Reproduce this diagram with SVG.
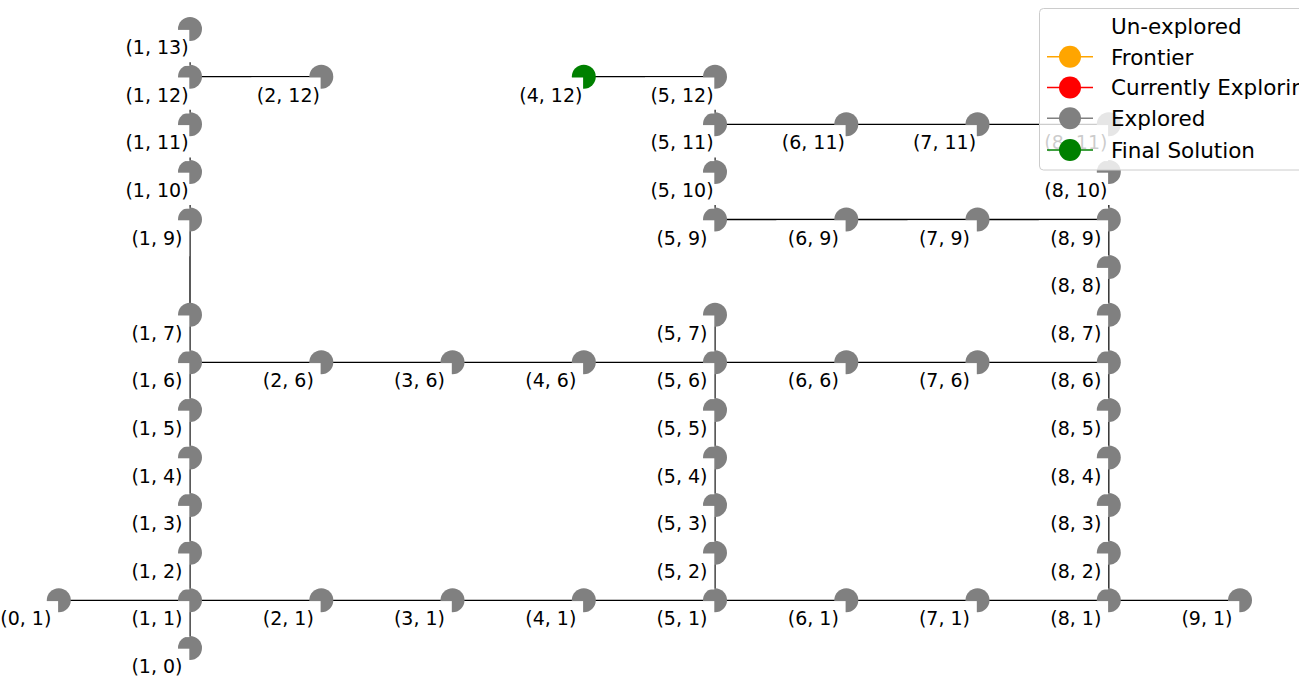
<svg xmlns="http://www.w3.org/2000/svg" width="1299" height="679" viewBox="0 0 1299 679">
<style>
.n circle{fill:#808080}
.n.g circle{fill:#008000}
.n rect{fill:#ffffff}
.n text{font-family:"DejaVu Sans",sans-serif;font-size:19px;fill:#000;text-anchor:middle}
#edges line{stroke:#000;stroke-width:1.3}
.lg text{font-family:"DejaVu Sans",sans-serif;font-size:21.5px;fill:#000}
.lg line{stroke-width:1.6}
</style>
<rect width="1299" height="679" fill="#ffffff"/>
<g id="edges">
<line x1="190" y1="76.7" x2="321.3" y2="76.7"/>
<line x1="583.8" y1="76.7" x2="715" y2="76.7"/>
<line x1="715" y1="124.3" x2="1108.8" y2="124.3"/>
<line x1="715" y1="219.5" x2="1108.8" y2="219.5"/>
<line x1="190" y1="362.3" x2="1108.8" y2="362.3"/>
<line x1="58.8" y1="600.3" x2="1240" y2="600.3"/>
<line x1="190" y1="219.5" x2="190" y2="647.9"/>
<line x1="715" y1="314.7" x2="715" y2="600.3"/>
<line x1="1108.8" y1="219.5" x2="1108.8" y2="600.3"/>
<line x1="190" y1="62.2" x2="190" y2="65.7"/>
<line x1="190" y1="109.8" x2="190" y2="113.3"/>
<line x1="190" y1="157.4" x2="190" y2="160.9"/>
<line x1="190" y1="205" x2="190" y2="208.5"/>
<line x1="715" y1="109.8" x2="715" y2="113.3"/>
<line x1="715" y1="157.4" x2="715" y2="160.9"/>
<line x1="715" y1="205" x2="715" y2="208.5"/>
<line x1="1108.8" y1="205" x2="1108.8" y2="208.5"/>
</g>
<g id="n0_1" class="n" transform="translate(58.8,600.3)"><circle r="12"/><rect x="-70" y="0.8" width="69.3" height="36"/><text x="-33" y="25">(0, 1)</text></g>
<g id="n1_0" class="n" transform="translate(190,647.9)"><circle r="12"/><rect x="-70" y="0.8" width="69.3" height="36"/><text x="-33" y="25">(1, 0)</text></g>
<g id="n1_1" class="n" transform="translate(190,600.3)"><circle r="12"/><rect x="-70" y="0.8" width="69.3" height="36"/><text x="-33" y="25">(1, 1)</text></g>
<g id="n1_2" class="n" transform="translate(190,552.7)"><circle r="12"/><rect x="-70" y="0.8" width="69.3" height="36"/><text x="-33" y="25">(1, 2)</text></g>
<g id="n1_3" class="n" transform="translate(190,505.1)"><circle r="12"/><rect x="-70" y="0.8" width="69.3" height="36"/><text x="-33" y="25">(1, 3)</text></g>
<g id="n1_4" class="n" transform="translate(190,457.5)"><circle r="12"/><rect x="-70" y="0.8" width="69.3" height="36"/><text x="-33" y="25">(1, 4)</text></g>
<g id="n1_5" class="n" transform="translate(190,409.9)"><circle r="12"/><rect x="-70" y="0.8" width="69.3" height="36"/><text x="-33" y="25">(1, 5)</text></g>
<g id="n1_6" class="n" transform="translate(190,362.3)"><circle r="12"/><rect x="-70" y="0.8" width="69.3" height="36"/><text x="-33" y="25">(1, 6)</text></g>
<g id="n1_7" class="n" transform="translate(190,314.7)"><circle r="12"/><rect x="-70" y="0.8" width="69.3" height="36"/><text x="-33" y="25">(1, 7)</text></g>
<g id="n1_9" class="n" transform="translate(190,219.5)"><circle r="12"/><rect x="-70" y="0.8" width="69.3" height="36"/><text x="-33" y="25">(1, 9)</text></g>
<g id="n1_10" class="n" transform="translate(190,171.9)"><circle r="12"/><rect x="-70" y="0.8" width="69.3" height="36"/><text x="-33" y="25">(1, 10)</text></g>
<g id="n1_11" class="n" transform="translate(190,124.3)"><circle r="12"/><rect x="-70" y="0.8" width="69.3" height="36"/><text x="-33" y="25">(1, 11)</text></g>
<g id="n1_12" class="n" transform="translate(190,76.7)"><circle r="12"/><rect x="-70" y="0.8" width="69.3" height="36"/><text x="-33" y="25">(1, 12)</text></g>
<g id="n1_13" class="n" transform="translate(190,29.1)"><circle r="12"/><rect x="-70" y="0.8" width="69.3" height="36"/><text x="-33" y="25">(1, 13)</text></g>
<g id="n2_1" class="n" transform="translate(321.3,600.3)"><circle r="12"/><rect x="-70" y="0.8" width="69.3" height="36"/><text x="-33" y="25">(2, 1)</text></g>
<g id="n2_6" class="n" transform="translate(321.3,362.3)"><circle r="12"/><rect x="-70" y="0.8" width="69.3" height="36"/><text x="-33" y="25">(2, 6)</text></g>
<g id="n2_12" class="n" transform="translate(321.3,76.7)"><circle r="12"/><rect x="-70" y="0.8" width="69.3" height="36"/><text x="-33" y="25">(2, 12)</text></g>
<g id="n3_1" class="n" transform="translate(452.5,600.3)"><circle r="12"/><rect x="-70" y="0.8" width="69.3" height="36"/><text x="-33" y="25">(3, 1)</text></g>
<g id="n3_6" class="n" transform="translate(452.5,362.3)"><circle r="12"/><rect x="-70" y="0.8" width="69.3" height="36"/><text x="-33" y="25">(3, 6)</text></g>
<g id="n4_1" class="n" transform="translate(583.8,600.3)"><circle r="12"/><rect x="-70" y="0.8" width="69.3" height="36"/><text x="-33" y="25">(4, 1)</text></g>
<g id="n4_6" class="n" transform="translate(583.8,362.3)"><circle r="12"/><rect x="-70" y="0.8" width="69.3" height="36"/><text x="-33" y="25">(4, 6)</text></g>
<g id="n4_12" class="n g" transform="translate(583.8,76.7)"><circle r="12"/><rect x="-70" y="0.8" width="69.3" height="36"/><text x="-33" y="25">(4, 12)</text></g>
<g id="n5_1" class="n" transform="translate(715,600.3)"><circle r="12"/><rect x="-70" y="0.8" width="69.3" height="36"/><text x="-33" y="25">(5, 1)</text></g>
<g id="n5_2" class="n" transform="translate(715,552.7)"><circle r="12"/><rect x="-70" y="0.8" width="69.3" height="36"/><text x="-33" y="25">(5, 2)</text></g>
<g id="n5_3" class="n" transform="translate(715,505.1)"><circle r="12"/><rect x="-70" y="0.8" width="69.3" height="36"/><text x="-33" y="25">(5, 3)</text></g>
<g id="n5_4" class="n" transform="translate(715,457.5)"><circle r="12"/><rect x="-70" y="0.8" width="69.3" height="36"/><text x="-33" y="25">(5, 4)</text></g>
<g id="n5_5" class="n" transform="translate(715,409.9)"><circle r="12"/><rect x="-70" y="0.8" width="69.3" height="36"/><text x="-33" y="25">(5, 5)</text></g>
<g id="n5_6" class="n" transform="translate(715,362.3)"><circle r="12"/><rect x="-70" y="0.8" width="69.3" height="36"/><text x="-33" y="25">(5, 6)</text></g>
<g id="n5_7" class="n" transform="translate(715,314.7)"><circle r="12"/><rect x="-70" y="0.8" width="69.3" height="36"/><text x="-33" y="25">(5, 7)</text></g>
<g id="n5_9" class="n" transform="translate(715,219.5)"><circle r="12"/><rect x="-70" y="0.8" width="69.3" height="36"/><text x="-33" y="25">(5, 9)</text></g>
<g id="n5_10" class="n" transform="translate(715,171.9)"><circle r="12"/><rect x="-70" y="0.8" width="69.3" height="36"/><text x="-33" y="25">(5, 10)</text></g>
<g id="n5_11" class="n" transform="translate(715,124.3)"><circle r="12"/><rect x="-70" y="0.8" width="69.3" height="36"/><text x="-33" y="25">(5, 11)</text></g>
<g id="n5_12" class="n" transform="translate(715,76.7)"><circle r="12"/><rect x="-70" y="0.8" width="69.3" height="36"/><text x="-33" y="25">(5, 12)</text></g>
<g id="n6_1" class="n" transform="translate(846.3,600.3)"><circle r="12"/><rect x="-70" y="0.8" width="69.3" height="36"/><text x="-33" y="25">(6, 1)</text></g>
<g id="n6_6" class="n" transform="translate(846.3,362.3)"><circle r="12"/><rect x="-70" y="0.8" width="69.3" height="36"/><text x="-33" y="25">(6, 6)</text></g>
<g id="n6_9" class="n" transform="translate(846.3,219.5)"><circle r="12"/><rect x="-70" y="0.8" width="69.3" height="36"/><text x="-33" y="25">(6, 9)</text></g>
<g id="n6_11" class="n" transform="translate(846.3,124.3)"><circle r="12"/><rect x="-70" y="0.8" width="69.3" height="36"/><text x="-33" y="25">(6, 11)</text></g>
<g id="n7_1" class="n" transform="translate(977.5,600.3)"><circle r="12"/><rect x="-70" y="0.8" width="69.3" height="36"/><text x="-33" y="25">(7, 1)</text></g>
<g id="n7_6" class="n" transform="translate(977.5,362.3)"><circle r="12"/><rect x="-70" y="0.8" width="69.3" height="36"/><text x="-33" y="25">(7, 6)</text></g>
<g id="n7_9" class="n" transform="translate(977.5,219.5)"><circle r="12"/><rect x="-70" y="0.8" width="69.3" height="36"/><text x="-33" y="25">(7, 9)</text></g>
<g id="n7_11" class="n" transform="translate(977.5,124.3)"><circle r="12"/><rect x="-70" y="0.8" width="69.3" height="36"/><text x="-33" y="25">(7, 11)</text></g>
<g id="n8_1" class="n" transform="translate(1108.8,600.3)"><circle r="12"/><rect x="-70" y="0.8" width="69.3" height="36"/><text x="-33" y="25">(8, 1)</text></g>
<g id="n8_2" class="n" transform="translate(1108.8,552.7)"><circle r="12"/><rect x="-70" y="0.8" width="69.3" height="36"/><text x="-33" y="25">(8, 2)</text></g>
<g id="n8_3" class="n" transform="translate(1108.8,505.1)"><circle r="12"/><rect x="-70" y="0.8" width="69.3" height="36"/><text x="-33" y="25">(8, 3)</text></g>
<g id="n8_4" class="n" transform="translate(1108.8,457.5)"><circle r="12"/><rect x="-70" y="0.8" width="69.3" height="36"/><text x="-33" y="25">(8, 4)</text></g>
<g id="n8_5" class="n" transform="translate(1108.8,409.9)"><circle r="12"/><rect x="-70" y="0.8" width="69.3" height="36"/><text x="-33" y="25">(8, 5)</text></g>
<g id="n8_6" class="n" transform="translate(1108.8,362.3)"><circle r="12"/><rect x="-70" y="0.8" width="69.3" height="36"/><text x="-33" y="25">(8, 6)</text></g>
<g id="n8_7" class="n" transform="translate(1108.8,314.7)"><circle r="12"/><rect x="-70" y="0.8" width="69.3" height="36"/><text x="-33" y="25">(8, 7)</text></g>
<g id="n8_8" class="n" transform="translate(1108.8,267.1)"><circle r="12"/><rect x="-70" y="0.8" width="69.3" height="36"/><text x="-33" y="25">(8, 8)</text></g>
<g id="n8_9" class="n" transform="translate(1108.8,219.5)"><circle r="12"/><rect x="-70" y="0.8" width="69.3" height="36"/><text x="-33" y="25">(8, 9)</text></g>
<g id="n8_10" class="n" transform="translate(1108.8,171.9)"><circle r="12"/><rect x="-70" y="0.8" width="69.3" height="36"/><text x="-33" y="25">(8, 10)</text></g>
<g id="n8_11" class="n" transform="translate(1108.8,124.3)"><circle r="12"/><rect x="-70" y="0.8" width="69.3" height="36"/><text x="-33" y="25">(8, 11)</text></g>
<g id="n9_1" class="n" transform="translate(1240,600.3)"><circle r="12"/><rect x="-70" y="0.8" width="69.3" height="36"/><text x="-33" y="25">(9, 1)</text></g>
<g id="legend" class="lg">
<rect x="1039.5" y="8.5" width="275" height="161.5" rx="4" fill="#ffffff" fill-opacity="0.8" stroke="#cccccc"/>
<text x="1111" y="33.5">Un-explored</text>
<line x1="1047" y1="56.7" x2="1093" y2="56.7" stroke="#ffa500"/><circle cx="1070" cy="56.7" r="11" fill="#ffa500"/>
<text x="1111" y="64.5">Frontier</text>
<line x1="1047" y1="87.5" x2="1093" y2="87.5" stroke="#ff0000"/><circle cx="1070" cy="87.5" r="11" fill="#ff0000"/>
<text x="1111" y="95.3">Currently Exploring</text>
<line x1="1047" y1="118.3" x2="1093" y2="118.3" stroke="#808080"/><circle cx="1070" cy="118.3" r="11" fill="#808080"/>
<text x="1111" y="126.1">Explored</text>
<line x1="1047" y1="150" x2="1093" y2="150" stroke="#008000"/><circle cx="1070" cy="150" r="11" fill="#008000"/>
<text x="1111" y="157.8">Final Solution</text>
</g>
</svg>
